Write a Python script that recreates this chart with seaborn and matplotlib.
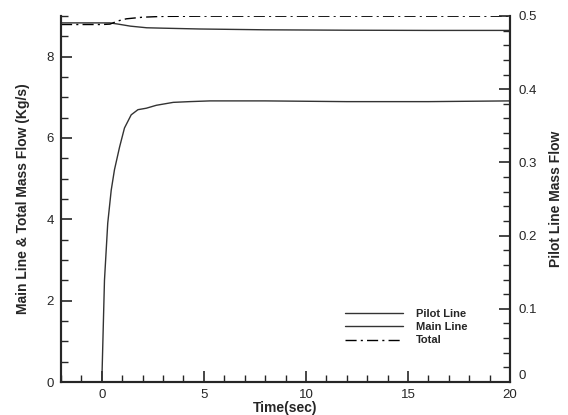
import numpy as np
import pandas as pd
import matplotlib
matplotlib.use('Agg')
import matplotlib.pyplot as plt
from matplotlib.ticker import MultipleLocator
import seaborn as sns

# values
time_pilot = [0.0, 0.13, 0.29, 0.46, 0.62, 0.87, 1.11, 1.44, 1.77, 2.18, 2.67, 3.5, 4.3, 5.3, 8.0, 12.0, 16.0, 20.0]
pilot_flow = [0.0, 0.139, 0.217, 0.262, 0.290, 0.321, 0.347, 0.365, 0.372, 0.374, 0.378, 0.382, 0.383, 0.384, 0.384, 0.383, 0.383, 0.384]

time_main = [-2.0, -1.0, 0.0, 0.4, 0.8, 1.4, 2.2, 3.0, 4.8, 8.0, 12.0, 16.0, 20.0]
main_flow = [8.83, 8.83, 8.83, 8.83, 8.80, 8.75, 8.71, 8.70, 8.68, 8.66, 8.65, 8.645, 8.645]

time_total = [-2.0, -1.0, 0.0, 0.4, 0.8, 1.2, 2.0, 3.0, 5.0, 10.0, 15.0, 20.0]
total_flow = [8.79, 8.79, 8.79, 8.80, 8.88, 8.93, 8.97, 8.99, 8.995, 8.995, 8.995, 8.995]

sns.set_style('ticks')
plt.rcParams['font.family'] = ['Liberation Sans', 'DejaVu Sans']
plt.rcParams['xtick.direction'] = 'in'
plt.rcParams['ytick.direction'] = 'in'

line_color = '#333333'

fig = plt.figure(figsize=(5.68, 4.15), dpi=100)
ax = fig.add_axes([0.1074, 0.0795, 0.7905, 0.882])
ax2 = ax.twinx()

df_main = pd.DataFrame({'t': time_main, 'v': main_flow})
df_total = pd.DataFrame({'t': time_total, 'v': total_flow})
df_pilot = pd.DataFrame({'t': time_pilot, 'v': pilot_flow})

sns.lineplot(data=df_main, x='t', y='v', ax=ax, color=line_color, lw=1.0, label='Main Line', legend=False)
sns.lineplot(data=df_total, x='t', y='v', ax=ax, color='black', lw=1.0, label='Total', legend=False)
ax.lines[-1].set_linestyle((0, (8, 3, 1.5, 3)))
sns.lineplot(data=df_pilot, x='t', y='v', ax=ax2, color=line_color, lw=1.0, label='Pilot Line', legend=False)

ax.set_xlim(-2, 20)
ax.set_ylim(0, 9)
ax2.set_ylim(0, 0.5)

ax.xaxis.set_major_locator(MultipleLocator(5))
ax.xaxis.set_minor_locator(MultipleLocator(1))
ax.yaxis.set_major_locator(MultipleLocator(2))
ax.yaxis.set_minor_locator(MultipleLocator(0.5))
ax2.yaxis.set_major_locator(MultipleLocator(0.1))
ax2.yaxis.set_minor_locator(MultipleLocator(0.02))
ax2.set_yticks([0, 0.1, 0.2, 0.3, 0.4, 0.5])
ax2.set_yticklabels(['0', '0.1', '0.2', '0.3', '0.4', '0.5'])

for a in (ax, ax2):
    a.tick_params(which='major', direction='in', length=8, width=1.2, labelsize=9.5, pad=5)
    a.tick_params(which='minor', direction='in', length=5, width=1.0)
    a.spines['top'].set_visible(False)
    for s in a.spines.values():
        s.set_linewidth(1.5)
ax.tick_params(axis='x', which='both', top=False)
ax2.tick_params(axis='y', pad=6)
ax2.get_yticklabels()[0].set_va('bottom')

ax.set_xlabel('Time(sec)', fontsize=10, fontweight='bold', labelpad=0)
ax.set_ylabel('Main Line & Total Mass Flow (Kg/s)', fontsize=10, fontweight='bold', labelpad=12)
ax2.set_ylabel('Pilot Line Mass Flow', fontsize=10, fontweight='bold', labelpad=9)

handles = [ax2.lines[0], ax.lines[0], ax.lines[1]]
labels = ['Pilot Line', 'Main Line', 'Total']
ax.legend(handles, labels, loc='upper left', bbox_to_anchor=(0.632, 0.2), frameon=False,
          prop={'size': 8, 'weight': 'bold'}, handlelength=5.2, handletextpad=1.2,
          borderpad=0, borderaxespad=0, labelspacing=0.3)

fig.savefig('out.png', dpi=100)
